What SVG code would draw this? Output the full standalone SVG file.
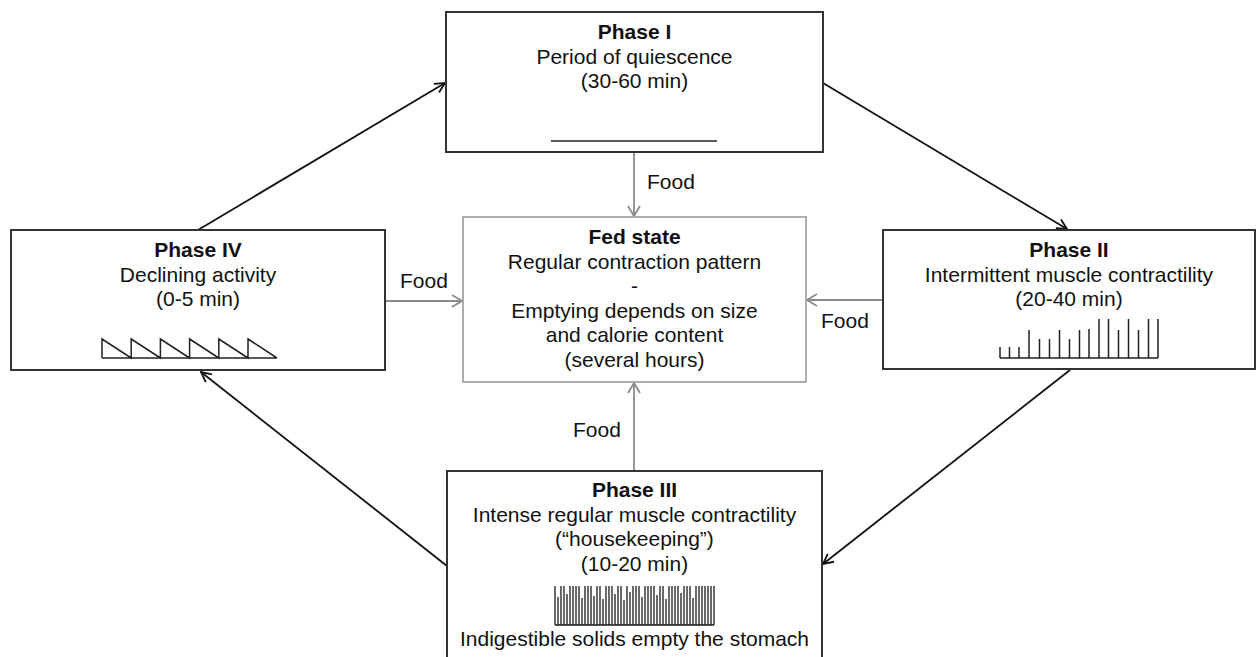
<svg xmlns="http://www.w3.org/2000/svg" width="1256" height="657" viewBox="0 0 1256 657">
<defs>
<style>
.box{fill:#fff;stroke:#333;stroke-width:2}
.fed{fill:#fff;stroke:#999;stroke-width:1.6}
.t{font-family:"Liberation Sans",Arial,sans-serif;font-size:21px;fill:#111;text-anchor:middle}
.b{font-weight:bold}
.lbl{font-family:"Liberation Sans",Arial,sans-serif;font-size:21px;fill:#111}
.cyc{stroke:#111;stroke-width:1.8;fill:none;marker-end:url(#ab)}
.food{stroke:#8c8c8c;stroke-width:1.8;fill:none;marker-end:url(#ag)}
.sig{stroke:#222;stroke-width:1.5;fill:none}
.sig3{stroke:#1a1a1a;stroke-width:1.3;fill:none}
</style>
<marker id="ab" viewBox="0 0 12 12" refX="11" refY="6" markerWidth="12" markerHeight="12" markerUnits="userSpaceOnUse" orient="auto">
<path d="M1,1 L11,6 L1,11" fill="none" stroke="#111" stroke-width="1.8"/>
</marker>
<marker id="ag" viewBox="0 0 12 14" refX="11" refY="7" markerWidth="12" markerHeight="14" markerUnits="userSpaceOnUse" orient="auto">
<path d="M1,1 L11,7 L1,13" fill="none" stroke="#8c8c8c" stroke-width="1.8"/>
</marker>
</defs>
<rect width="1256" height="657" fill="#fff"/>

<g id="connectors">
<line class="cyc" x1="198" y1="230" x2="445" y2="83"/>
<line class="cyc" x1="823" y1="83" x2="1067" y2="229"/>
<line class="cyc" x1="1070" y1="370" x2="823" y2="564"/>
<line class="cyc" x1="447" y1="566" x2="201" y2="372"/>
<line class="food" x1="634" y1="153" x2="634" y2="216"/>
<line class="food" x1="386" y1="301" x2="462" y2="301"/>
<line class="food" x1="882" y1="300" x2="807" y2="300"/>
<line class="food" x1="634" y1="470" x2="634" y2="383"/>
<text class="lbl" x="647" y="189">Food</text>
<text class="lbl" x="400" y="288">Food</text>
<text class="lbl" x="821" y="328">Food</text>
<text class="lbl" x="573" y="437">Food</text>
</g>

<g id="phase1">
<rect class="box" x="446" y="12" width="377" height="140"/>
<text class="t b" x="634.5" y="39">Phase I</text>
<text class="t" x="634.5" y="63.5">Period of quiescence</text>
<text class="t" x="634.5" y="88">(30-60 min)</text>
<line class="sig" x1="551" y1="141" x2="717" y2="141"/>
</g>

<g id="phase2">
<rect class="box" x="883" y="230" width="372" height="139"/>
<text class="t b" x="1069" y="257">Phase II</text>
<text class="t" x="1069" y="281.5">Intermittent muscle contractility</text>
<text class="t" x="1069" y="306">(20-40 min)</text>
<path class="sig" d="M1000,358 H1158 M1000,358 V347 M1009.5,358 V347 M1019,358 V347 M1029,358 V330 M1039.5,358 V339 M1049.5,358 V339 M1059.5,358 V330 M1069.5,358 V339 M1079.5,358 V330 M1089,358 V329 M1099,358 V319 M1108.5,358 V319 M1118.5,358 V330 M1128.5,358 V319 M1138.5,358 V330 M1148.5,358 V319 M1158,358 V319"/>
</g>

<g id="phase3">
<rect class="box" x="447" y="471" width="375" height="200"/>
<text class="t b" x="634.5" y="497">Phase III</text>
<text class="t" x="634.5" y="521.5">Intense regular muscle contractility</text>
<text class="t" x="634.5" y="546">(“housekeeping”)</text>
<text class="t" x="634.5" y="570.5">(10-20 min)</text>
<path class="sig3" d="M555,625 H714 M555,625 V586 M558,625 V597 M561,625 V586 M564,625 V586 M567,625 V594 M570,625 V586 M573,625 V586 M576,625 V586 M579,625 V586 M582,625 V598 M585,625 V586 M588,625 V586 M591,625 V586 M594,625 V596 M597,625 V586 M600,625 V586 M603,625 V599 M606,625 V586 M609,625 V586 M612,625 V586 M615,625 V594 M618,625 V586 M621,625 V586 M624,625 V600 M627,625 V586 M630,625 V592 M633,625 V586 M636,625 V586 M639,625 V586 M642,625 V597 M645,625 V586 M648,625 V586 M651,625 V586 M654,625 V586 M657,625 V595 M660,625 V586 M663,625 V586 M666,625 V599 M669,625 V586 M672,625 V586 M675,625 V586 M678,625 V586 M681,625 V593 M684,625 V586 M687,625 V586 M690,625 V586 M693,625 V598 M696,625 V586 M699,625 V586 M702,625 V586 M705,625 V586 M708,625 V586 M711,625 V586 M714,625 V586"/>
<text class="t" x="634.5" y="646">Indigestible solids empty the stomach</text>
</g>

<g id="phase4">
<rect class="box" x="11" y="230" width="374" height="140"/>
<text class="t b" x="198" y="257">Phase IV</text>
<text class="t" x="198" y="281.5">Declining activity</text>
<text class="t" x="198" y="306">(0-5 min)</text>
<path class="sig" d="M102,358 H277 M102,358 V339 L131.2,358 V339 L160.4,358 V339 L189.6,358 V339 L218.8,358 V339 L248,358 V339 L277,358"/>
</g>

<g id="fed">
<rect class="fed" x="463" y="217" width="343" height="165"/>
<text class="t b" x="634.5" y="244">Fed state</text>
<text class="t" x="634.5" y="268.5">Regular contraction pattern</text>
<text class="t" x="634.5" y="293">-</text>
<text class="t" x="634.5" y="317.5">Emptying depends on size</text>
<text class="t" x="634.5" y="342">and calorie content</text>
<text class="t" x="634.5" y="366.5">(several hours)</text>
</g>
</svg>
